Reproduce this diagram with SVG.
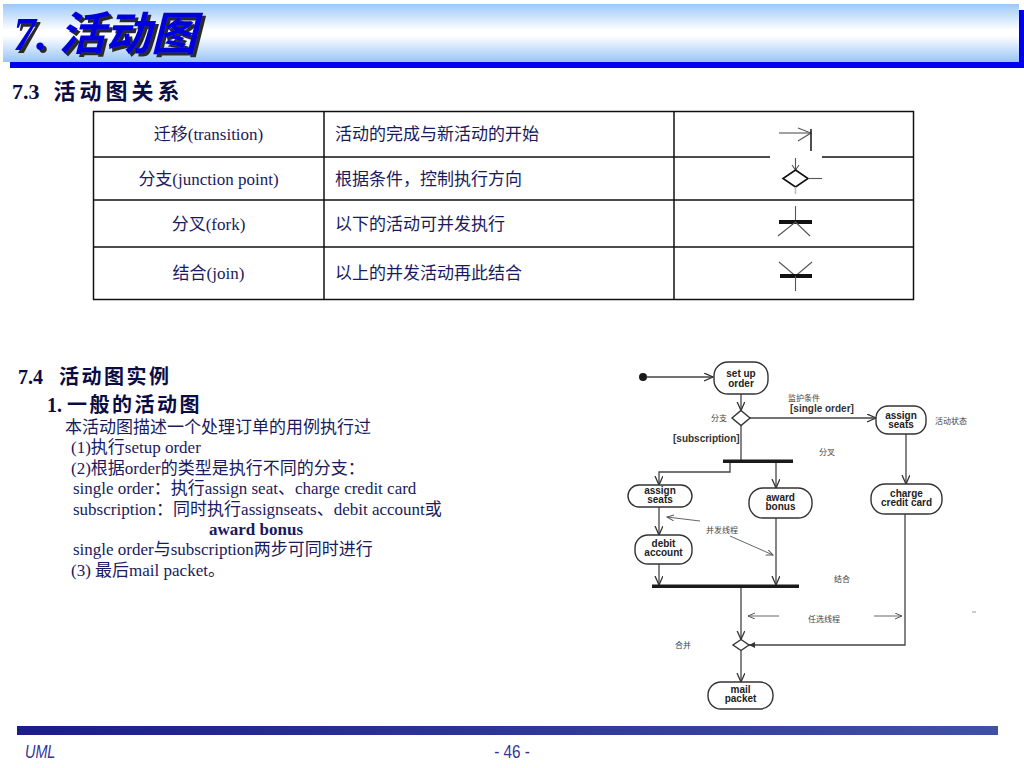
<svg xmlns="http://www.w3.org/2000/svg" width="1024" height="768" viewBox="0 0 1024 768">
<defs>
<linearGradient id="titleGrad" x1="0" y1="0" x2="0" y2="1">
<stop offset="0" stop-color="#9cc8fb"/>
<stop offset="0.45" stop-color="#ffffff"/>
<stop offset="0.55" stop-color="#ffffff"/>
<stop offset="1" stop-color="#98c4f8"/>
</linearGradient>
<linearGradient id="footGrad" x1="0" y1="0" x2="1" y2="0">
<stop offset="0" stop-color="#1c1c8c"/>
<stop offset="1" stop-color="#4050a6"/>
</linearGradient>
<filter id="shadow" x="-5%" y="-10%" width="115%" height="130%">
<feDropShadow dx="3" dy="3" stdDeviation="0.6" flood-color="#2a2a2a" flood-opacity="1"/>
</filter>
<marker id="open" markerWidth="10" markerHeight="10" refX="9" refY="4" orient="auto" markerUnits="userSpaceOnUse">
<path d="M0,0 L9,4 L0,8" fill="none" stroke="#333" stroke-width="1.3"/>
</marker>
<marker id="thin" markerWidth="8" markerHeight="8" refX="7" refY="3" orient="auto" markerUnits="userSpaceOnUse">
<path d="M0,0 L7,3 L0,6" fill="none" stroke="#555" stroke-width="1"/>
</marker>
<marker id="solid" markerWidth="8" markerHeight="8" refX="6" refY="3" orient="auto" markerUnits="userSpaceOnUse">
<path d="M0,0 L6,3 L0,6 Z" fill="#333"/>
</marker>
</defs>
<style>
.head{font-family:"Liberation Serif","Noto Sans CJK SC",serif;font-weight:bold;fill:#0c0c44;}
.body{font-family:"Liberation Serif","Noto Sans CJK SC",serif;font-size:17px;fill:#1a1a5e;}
.cell{font-family:"Liberation Serif","Noto Sans CJK SC",serif;font-size:17px;fill:#1a1a5e;}
.cellc{text-anchor:middle;}
.grid{stroke:#111;stroke-width:1.5;fill:none;}
.sym{stroke:#555;stroke-width:1.1;fill:none;}
.node rect{fill:#fff;stroke:#333;stroke-width:1.4;}
.node text{font-family:"Liberation Sans","Noto Sans CJK SC",sans-serif;font-size:10px;font-weight:bold;fill:#222;text-anchor:middle;}
.edge{stroke:#444;stroke-width:1.3;fill:none;}
.note{stroke:#666;stroke-width:1;fill:none;}
.lbl{font-family:"Noto Sans CJK SC",sans-serif;font-size:8px;fill:#444;}
.guard{font-family:"Liberation Sans","Noto Sans CJK SC",sans-serif;font-size:10px;font-weight:bold;fill:#333;}
.bar{fill:#1a1a1a;}
.foot{font-family:"Liberation Sans",sans-serif;font-size:18px;fill:#333399;}
</style>
<rect width="1024" height="768" fill="#ffffff"/>

<!-- title bar -->
<g id="title">
<rect x="10" y="10" width="1014" height="58" fill="#0000ee"/>
<rect x="3" y="4" width="1016" height="58" fill="url(#titleGrad)"/>
<text x="13" y="50" font-family="Liberation Serif,'Noto Sans CJK SC',serif" font-size="46" font-weight="bold" font-style="italic" fill="#0000dd" filter="url(#shadow)">7. 活动图</text>
</g>

<text class="head" x="12" y="99" font-size="22">7.3<tspan dx="14" letter-spacing="4">活动图关系</tspan></text>

<!-- table -->
<g id="table">
<rect x="93.5" y="111.5" width="820" height="188" class="grid" stroke-width="3"/>
<line x1="324" y1="111" x2="324" y2="300" class="grid"/>
<line x1="674" y1="111" x2="674" y2="300" class="grid"/>
<line x1="93" y1="157" x2="914" y2="157" class="grid"/>
<line x1="93" y1="200" x2="914" y2="200" class="grid"/>
<line x1="93" y1="247" x2="914" y2="247" class="grid"/>
<rect x="770" y="155" width="52" height="4" fill="#fff"/>
<text class="cell cellc" x="208.5" y="140">迁移(transition)</text>
<text class="cell cellc" x="208.5" y="185">分支(junction point)</text>
<text class="cell cellc" x="208.5" y="230">分叉(fork)</text>
<text class="cell cellc" x="208.5" y="279">结合(join)</text>
<text class="cell" x="335" y="140">活动的完成与新活动的开始</text>
<text class="cell" x="335" y="185">根据条件，控制执行方向</text>
<text class="cell" x="335" y="230">以下的活动可并发执行</text>
<text class="cell" x="335" y="279">以上的并发活动再此结合</text>
<g id="sym-transition">
<line x1="779" y1="133" x2="811" y2="133" class="sym"/>
<path d="M798,128 L811,133 L798,141" class="sym"/>
<line x1="811" y1="129" x2="811" y2="151" stroke="#222" stroke-width="1.6"/>
</g>
<g id="sym-junction">
<line x1="795.5" y1="158" x2="795.5" y2="170" class="sym"/>
<path d="M792,165 L795.5,170 L799,165" class="sym"/>
<polygon points="795.5,170 808,178.5 795.5,187 783,178.5" fill="#fff" stroke="#111" stroke-width="1.6"/>
<line x1="808" y1="178.5" x2="822" y2="178.5" class="sym"/>
<line x1="795.5" y1="187" x2="795.5" y2="194" stroke="#bbb" stroke-width="1.5"/>
</g>
<g id="sym-fork">
<line x1="795.5" y1="206" x2="795.5" y2="222" class="sym"/>
<rect x="779" y="220" width="33" height="4" fill="#111"/>
<path d="M778,236 L795.5,222 L810,236" class="sym"/>
</g>
<g id="sym-join">
<path d="M779,262 L795.5,276 L812,262" class="sym"/>
<rect x="780" y="274" width="32" height="4" fill="#111"/>
<line x1="795.5" y1="276" x2="795.5" y2="291" class="sym"/>
</g>
</g>

<!-- left text -->
<text class="head" x="18" y="384" font-size="20">7.4<tspan dx="16" letter-spacing="2.5">活动图实例</tspan></text>
<text class="head" x="47" y="412" font-size="20">1. <tspan letter-spacing="2.5">一般的活动图</tspan></text>
<text class="body" x="65" y="433">本活动图描述一个处理订单的用例执行过</text>
<text class="body" x="71" y="453">(1)执行setup order</text>
<text class="body" x="71" y="474">(2)根据order的类型是执行不同的分支：</text>
<text class="body" x="73" y="494">single order：执行assign seat、charge credit card</text>
<text class="body" x="73" y="515">subscription：同时执行assignseats、debit account或</text>
<text class="body" x="209" y="535" font-weight="bold">award bonus</text>
<text class="body" x="73" y="555">single order与subscription两步可同时进行</text>
<text class="body" x="71" y="576">(3) 最后mail packet。</text>

<!-- activity diagram -->
<g id="connectors">
<line x1="647" y1="377" x2="713" y2="377" class="edge" marker-end="url(#open)"/>
<line x1="741" y1="394" x2="741" y2="410.5" class="edge" marker-end="url(#open)"/>
<line x1="750" y1="418" x2="876" y2="418" class="edge" marker-end="url(#open)"/>
<line x1="741" y1="425.5" x2="741" y2="460" class="edge"/>
<polyline points="730,461 730,472 659,472 659,485" class="edge" marker-end="url(#open)"/>
<line x1="776" y1="461" x2="776" y2="488" class="edge" marker-end="url(#open)"/>
<line x1="659" y1="507" x2="659" y2="535" class="edge" marker-end="url(#open)"/>
<line x1="659" y1="564" x2="659" y2="585" class="edge" marker-end="url(#open)"/>
<line x1="776" y1="518" x2="776" y2="585" class="edge" marker-end="url(#open)"/>
<line x1="906" y1="434" x2="906" y2="484" class="edge" marker-end="url(#open)"/>
<polyline points="905,514 905,645 749,645" class="edge" marker-end="url(#solid)"/>
<line x1="741" y1="588" x2="741" y2="639.5" class="edge" marker-end="url(#open)"/>
<line x1="741" y1="650.5" x2="741" y2="682" class="edge" marker-end="url(#open)"/>
<line x1="700" y1="521" x2="667" y2="517" class="note" marker-end="url(#thin)"/>
<line x1="730" y1="536" x2="773" y2="555" class="note" marker-end="url(#thin)"/>
<line x1="779" y1="616" x2="748" y2="616" class="note" marker-end="url(#thin)"/>
<line x1="874" y1="616" x2="902" y2="616" class="note" marker-end="url(#thin)"/>
</g>

<g id="start"><circle cx="643" cy="377" r="4" fill="#1a1a1a"/></g>
<g id="setup" class="node"><rect x="714" y="362" width="54" height="32" rx="14"/><text x="741" y="377">set up</text><text x="741" y="387">order</text></g>
<g id="branch"><polygon points="741,410.5 750,418 741,425.5 732,418" fill="#fff" stroke="#333" stroke-width="1.4"/></g>
<g id="assignR" class="node"><rect x="876" y="406" width="50" height="28" rx="12"/><text x="901" y="419">assign</text><text x="901" y="428">seats</text></g>
<g id="fork"><rect x="723" y="459.5" width="70" height="3.5" class="bar"/></g>
<g id="assignL" class="node"><rect x="628" y="485" width="64" height="22" rx="11"/><text x="660" y="494">assign</text><text x="660" y="503">seats</text></g>
<g id="award" class="node"><rect x="749" y="488" width="63" height="30" rx="14"/><text x="780.5" y="501">award</text><text x="780.5" y="510">bonus</text></g>
<g id="charge" class="node"><rect x="871" y="484" width="71" height="30" rx="14"/><text x="906.5" y="497">charge</text><text x="906.5" y="506">credit card</text></g>
<g id="debit" class="node"><rect x="635" y="535" width="57" height="29" rx="13"/><text x="663.5" y="547">debit</text><text x="663.5" y="556">account</text></g>
<g id="join"><rect x="652" y="584.5" width="147" height="3.5" class="bar"/></g>
<g id="merge"><polygon points="741,639.5 749,645 741,650.5 733,645" fill="#fff" stroke="#333" stroke-width="1.4"/></g>
<g id="mail" class="node"><rect x="708" y="682" width="65" height="27" rx="13"/><text x="740.5" y="693">mail</text><text x="740.5" y="702">packet</text></g>

<g id="labels">
<text class="lbl" x="788" y="401">监护条件</text>
<text class="guard" x="790" y="412">[single order]</text>
<text class="lbl" x="711" y="421">分支</text>
<text class="lbl" x="935" y="424">活动状态</text>
<text class="guard" x="673" y="442">[subscription]</text>
<text class="lbl" x="819" y="455">分叉</text>
<text class="lbl" x="706" y="533">并发线程</text>
<text class="lbl" x="834" y="582">结合</text>
<text class="lbl" x="808" y="622">任选线程</text>
<text class="lbl" x="675" y="648">合并</text>
</g>
<line x1="972" y1="612" x2="976" y2="612" stroke="#999" stroke-width="1"/>

<!-- footer -->
<g id="footer">
<rect x="17" y="726" width="981" height="9" fill="url(#footGrad)"/>
<text class="foot" font-style="italic" transform="translate(25,758) scale(0.8,1)">UML</text>
<text class="foot" transform="translate(512,758) scale(0.85,1)" text-anchor="middle">- 46 -</text>
</g>
</svg>
